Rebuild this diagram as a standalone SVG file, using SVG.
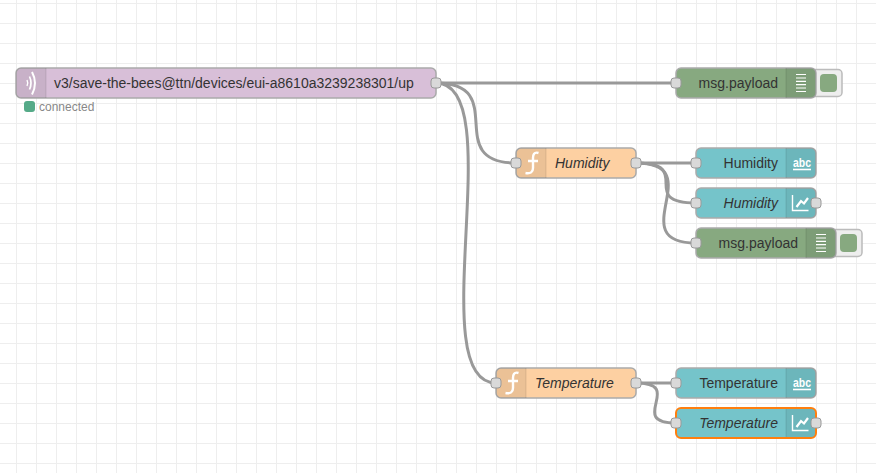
<svg xmlns="http://www.w3.org/2000/svg" width="876" height="473" viewBox="0 0 876 473">
  <style>
    text { font-family: "Liberation Sans", Arial, sans-serif; font-size: 14px; fill: #333; }
    .end { text-anchor: end; }
    .it { font-style: italic; }
    .body { stroke: #aaa; stroke-width: 1.5; }
    .inject { fill: #d8bfd8; }
    .func { fill: #fdd0a2; }
    .debug { fill: #87a980; }
    .ui { fill: #75c4ca; }
    .shade { fill: #000; fill-opacity: 0.07; }
    .div { stroke: #000; stroke-opacity: 0.1; stroke-width: 1; }
    .port { fill: #d9d9d9; stroke: #999; stroke-width: 1; }
    .axis { fill: none; stroke: #fff; stroke-width: 1.4; }
    .trace { fill: none; stroke: #fff; stroke-width: 2.2; }
    .rows { fill: none; stroke: #fff; stroke-width: 1.2; }
    .btnbox { fill: #eee; stroke: #bbb; stroke-width: 1.5; }
    .wire { fill: none; stroke: #999; stroke-width: 3; }
    .grid { stroke: #eee; stroke-width: 1; }
    .abc { font-size: 12px; font-weight: bold; fill: #fff; text-anchor: middle; }
  </style>
  <defs>
    <pattern id="cells" x="16" y="3" width="20" height="20" patternUnits="userSpaceOnUse">
      <path class="grid" fill="none" d="M0.5 0V20M0 0.5H20"/>
    </pattern>
    <g id="list">
      <path class="rows" d="M-5 -8.500H5M-5 -5H5M-5 -1.700H5M-5 1.700H5M-5 5H5M-5 8.500H5"/>
    </g>
    <g id="chart">
      <path class="axis" d="M-8.500 -8V7.500H7.500"/>
      <path class="trace" d="M-4.500 4L0 -2L3 0.500L7 -5"/>
    </g>
    <g id="fn">
      <path fill="none" stroke="#fff" stroke-width="2.4" d="M6.500 -10C2 -11.500 1 -8 1 -5V5C1 9 -1.500 11 -6.500 10M-4 -2H6"/>
    </g>
    <g id="text-ico">
      <text class="abc" x="0" y="4" textLength="18" lengthAdjust="spacingAndGlyphs">abc</text>
      <path stroke="#fff" stroke-width="1.6" d="M-9 6.500H9"/>
    </g>
  </defs>

  <rect width="876" height="473" fill="#fff"/>
  <rect width="876" height="473" fill="url(#cells)"/>

  <!-- links between nodes -->
  <g id="connectors">
    <path class="wire" d="M436 83H676"/>
    <path class="wire" d="M436 83C511 83 441 163 516 163"/>
    <path class="wire" d="M436 83C511 83 421 383 496 383"/>
    <path class="wire" d="M636 163H696"/>
    <path class="wire" d="M636 163C696 163 636 203 696 203"/>
    <path class="wire" d="M636 163C711 163 621 243 696 243"/>
    <path class="wire" d="M636 383H676"/>
    <path class="wire" d="M636 383C686 383 626 423 676 423"/>
  </g>

  <g id="mqtt-in">
    <rect class="body inject" x="16" y="68" width="420" height="30" rx="5"/>
    <path class="shade" d="M21 68H46V98H21a5 5 0 0 1-5-5V73a5 5 0 0 1 5-5z"/>
    <path class="div" d="M46 68V98"/>
    <g fill="none" stroke="#fff">
      <path stroke-width="1.4" d="M27 80Q28.500 83 27 86"/>
      <path stroke-width="1.7" d="M29.500 76.500Q32.500 83 29.500 89.500"/>
      <path stroke-width="2" d="M32 72Q38 83 32 94.500"/>
    </g>
    <text x="54" y="88">v3/save-the-bees@ttn/devices/eui-a8610a3239238301/up</text>
    <rect class="port" x="431" y="78" width="10" height="10" rx="3"/>
    <rect x="24" y="101" width="11" height="11" rx="3" fill="#55aa88"/>
    <text x="39" y="111" style="font-size:12px;fill:#888">connected</text>
  </g>

  <g id="debug-main">
    <rect class="btnbox" x="810" y="69.500" width="32" height="27" rx="4"/>
    <rect class="body debug" x="676" y="68" width="140" height="30" rx="5"/>
    <path class="shade" d="M786 68H811a5 5 0 0 1 5 5V93a5 5 0 0 1-5 5H786z"/>
    <path class="div" d="M786 68V98"/>
    <use href="#list" x="801" y="83"/>
    <text class="end" x="778" y="88">msg.payload</text>
    <rect class="port" x="671" y="78" width="10" height="10" rx="3"/>
    <rect x="820" y="74" width="17" height="18" rx="4" fill="#87a980"/>
  </g>

  <g id="fn-humidity">
    <rect class="body func" x="516" y="148" width="120" height="30" rx="5"/>
    <path class="shade" d="M521 148H546V178H521a5 5 0 0 1-5-5V153a5 5 0 0 1 5-5z"/>
    <path class="div" d="M546 148V178"/>
    <use href="#fn" x="532" y="163"/>
    <text class="it" x="555" y="168">Humidity</text>
    <rect class="port" x="511" y="158" width="10" height="10" rx="3"/>
    <rect class="port" x="631" y="158" width="10" height="10" rx="3"/>
  </g>

  <g id="text-humidity">
    <rect class="body ui" x="696" y="148" width="120" height="30" rx="5"/>
    <path class="shade" d="M786 148H811a5 5 0 0 1 5 5V173a5 5 0 0 1-5 5H786z"/>
    <path class="div" d="M786 148V178"/>
    <use href="#text-ico" x="802" y="163"/>
    <text class="end" x="778" y="168">Humidity</text>
    <rect class="port" x="691" y="158" width="10" height="10" rx="3"/>
  </g>

  <g id="chart-humidity">
    <rect class="body ui" x="696" y="188" width="120" height="30" rx="5"/>
    <path class="shade" d="M786 188H811a5 5 0 0 1 5 5V213a5 5 0 0 1-5 5H786z"/>
    <path class="div" d="M786 188V218"/>
    <use href="#chart" x="801" y="203"/>
    <text class="end it" x="778" y="208">Humidity</text>
    <rect class="port" x="691" y="198" width="10" height="10" rx="3"/>
    <rect class="port" x="811" y="198" width="10" height="10" rx="3"/>
  </g>

  <g id="debug-humidity">
    <rect class="btnbox" x="830" y="229.500" width="32" height="27" rx="4"/>
    <rect class="body debug" x="696" y="228" width="140" height="30" rx="5"/>
    <path class="shade" d="M806 228H831a5 5 0 0 1 5 5V253a5 5 0 0 1-5 5H806z"/>
    <path class="div" d="M806 228V258"/>
    <use href="#list" x="821" y="243"/>
    <text class="end" x="798" y="248">msg.payload</text>
    <rect class="port" x="691" y="238" width="10" height="10" rx="3"/>
    <rect x="840" y="234" width="17" height="18" rx="4" fill="#87a980"/>
  </g>

  <g id="fn-temperature">
    <rect class="body func" x="496" y="368" width="140" height="30" rx="5"/>
    <path class="shade" d="M501 368H526V398H501a5 5 0 0 1-5-5V373a5 5 0 0 1 5-5z"/>
    <path class="div" d="M526 368V398"/>
    <use href="#fn" x="512" y="383"/>
    <text class="it" x="535" y="388">Temperature</text>
    <rect class="port" x="491" y="378" width="10" height="10" rx="3"/>
    <rect class="port" x="631" y="378" width="10" height="10" rx="3"/>
  </g>

  <g id="text-temperature">
    <rect class="body ui" x="676" y="368" width="140" height="30" rx="5"/>
    <path class="shade" d="M786 368H811a5 5 0 0 1 5 5V393a5 5 0 0 1-5 5H786z"/>
    <path class="div" d="M786 368V398"/>
    <use href="#text-ico" x="802" y="383"/>
    <text class="end" x="778" y="388">Temperature</text>
    <rect class="port" x="671" y="378" width="10" height="10" rx="3"/>
  </g>

  <g id="chart-temperature">
    <rect class="ui" x="676" y="408" width="140" height="30" rx="5" stroke="#ff7f0e" stroke-width="2"/>
    <path class="shade" d="M786 409H811a4 4 0 0 1 4 4V433a4 4 0 0 1-4 4H786z"/>
    <path class="div" d="M786 409V437"/>
    <use href="#chart" x="801" y="423"/>
    <text class="end it" x="778" y="428">Temperature</text>
    <rect class="port" x="671" y="418" width="10" height="10" rx="3"/>
    <rect class="port" x="811" y="418" width="10" height="10" rx="3"/>
  </g>
</svg>
